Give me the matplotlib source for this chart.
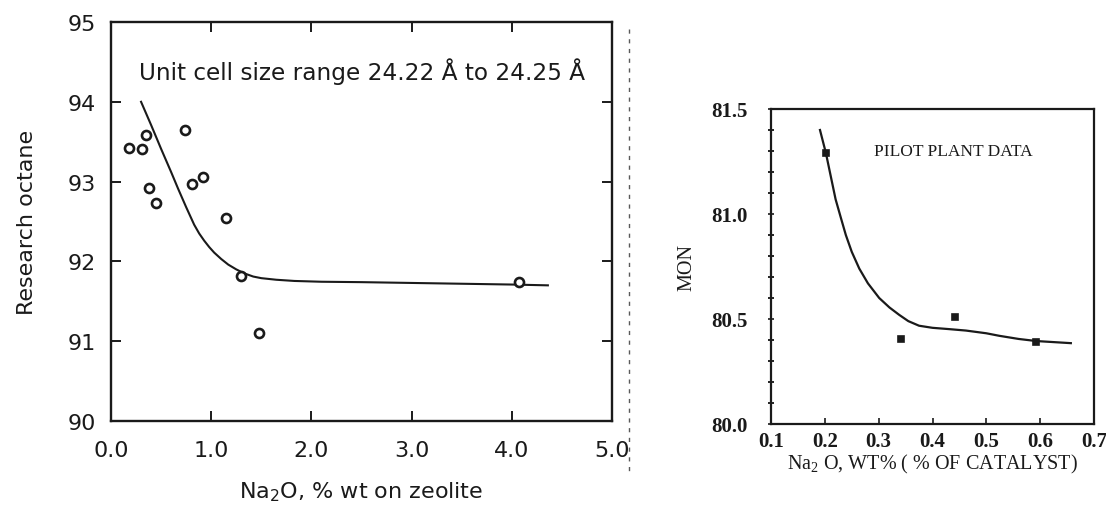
import numpy as np
import matplotlib
matplotlib.use("Agg")
import matplotlib.pyplot as plt
from matplotlib.lines import Line2D
from matplotlib.ticker import MultipleLocator

plt.rcParams["mathtext.default"] = "regular"

# research octane vs Na2O on zeolite (measured points)
na2o_zeolite = [0.18, 0.31, 0.35, 0.38, 0.45, 0.74, 0.81, 0.92, 1.15, 1.30, 1.48, 4.07]
ron = [93.42, 93.41, 93.58, 92.92, 92.73, 93.65, 92.97, 93.06, 92.55, 91.82, 91.10, 91.74]

# hand drawn trend through the octane data
ron_curve_x = [0.30, 0.40, 0.50, 0.60, 0.67, 0.75, 0.83, 0.88, 0.93, 0.98, 1.03, 1.10, 1.17,
               1.25, 1.33, 1.42, 1.50, 1.65, 1.83, 2.10, 2.50, 3.00, 3.50, 4.00, 4.36]
ron_curve_y = [94.00, 93.71, 93.41, 93.12, 92.91, 92.68, 92.46, 92.35, 92.26, 92.18, 92.11,
               92.03, 91.96, 91.90, 91.85, 91.81, 91.79, 91.77, 91.755, 91.745, 91.74, 91.73,
               91.72, 91.71, 91.70]

# pilot plant MON vs Na2O on catalyst
na2o_catalyst = [0.203, 0.342, 0.442, 0.593]
mon = [81.29, 80.405, 80.51, 80.39]

mon_curve_x = [0.191, 0.202, 0.211, 0.220, 0.230, 0.239, 0.250, 0.264, 0.280, 0.301, 0.320,
               0.338, 0.355, 0.375, 0.400, 0.430, 0.462, 0.500, 0.524, 0.560, 0.593, 0.625, 0.657]
mon_curve_y = [81.40, 81.29, 81.18, 81.07, 80.98, 80.90, 80.82, 80.74, 80.67, 80.60, 80.555,
               80.52, 80.49, 80.468, 80.458, 80.452, 80.445, 80.432, 80.42, 80.405, 80.395, 80.39, 80.385]

left_xticks = [0.0, 1.0, 2.0, 3.0, 4.0, 5.0]
left_yticks = [90, 91, 92, 93, 94, 95]
right_xticks = [0.1, 0.2, 0.3, 0.4, 0.5, 0.6, 0.7]
right_yticks = [80.0, 80.5, 81.0, 81.5]

ink = "#1a1a1a"

fig = plt.figure(figsize=(11.06, 5.10), dpi=100)

# ---- left panel ----
ax1 = fig.add_axes([111 / 1106, 1 - 422 / 510, 501 / 1106, 399 / 510])
ax1.plot(ron_curve_x, ron_curve_y, color=ink, lw=1.5)
ax1.plot(na2o_zeolite, ron, ls="none", marker="o", ms=6.5, mfc="white", mec=ink, mew=1.9)
ax1.set_xlim(0, 5)
ax1.set_ylim(90, 95)
ax1.set_xticks(left_xticks)
ax1.set_xticklabels([f"{v:.1f}" for v in left_xticks])
ax1.set_yticks(left_yticks)
ax1.tick_params(direction="in", length=7, width=1.4, top=True, right=True,
                labelsize=16, colors=ink, pad=11)
ax1.tick_params(axis="x", pad=14)
for s in ax1.spines.values():
    s.set_linewidth(1.7)
    s.set_color(ink)
ax1.set_xlabel("Na$_2$O, % wt on zeolite", fontsize=16, color=ink, labelpad=14)
ax1.set_ylabel("Research octane", fontsize=16, color=ink, labelpad=22)
ax1.text(0.056, 0.877, "Unit cell size range 24.22 Å to 24.25 Å", transform=ax1.transAxes,
         fontsize=16.7, color=ink, va="center", ha="left")

# ---- right panel ----
serif = ["Liberation Serif", "DejaVu Serif"]
ax2 = fig.add_axes([771 / 1106, 1 - 425 / 510, 323 / 1106, 315 / 510])
ax2.plot(mon_curve_x, mon_curve_y, color=ink, lw=1.6)
ax2.plot(na2o_catalyst, mon, ls="none", marker="s", ms=5, mfc=ink, mec=ink, mew=1.2)
ax2.set_xlim(0.1, 0.7)
ax2.set_ylim(80.0, 81.5)
ax2.set_xticks(right_xticks)
ax2.set_xticklabels([f"{v:.1f}" for v in right_xticks])
ax2.set_yticks(right_yticks)
ax2.set_yticklabels([f"{v:.1f}" for v in right_yticks])
ax2.yaxis.set_minor_locator(MultipleLocator(0.1))
ax2.tick_params(axis="y", which="both", direction="inout", length=5, width=1.2, pad=14)
ax2.tick_params(axis="x", direction="in", length=4, width=1.2, pad=5)
ax2.tick_params(labelsize=15, colors=ink)
for s in ax2.spines.values():
    s.set_linewidth(1.6)
    s.set_color(ink)
for lab in ax2.get_xticklabels() + ax2.get_yticklabels():
    lab.set_family(serif)
    lab.set_weight("semibold")
ax2.set_xlabel("Na$_2$ O, WT% ( % OF CATALYST)", fontsize=14.5, family=serif,
               color=ink, labelpad=1)
ax2.set_ylabel("MON", fontsize=14.5, family=serif, color=ink, labelpad=11)
ax2.text(0.318, 0.867, "PILOT PLANT DATA", transform=ax2.transAxes, fontsize=12.5,
         family=serif, color=ink, va="center", ha="left")

# faint dashed rule between the panels
fig.add_artist(Line2D([629 / 1106, 629 / 1106], [1 - 30 / 510, 1 - 475 / 510],
                      transform=fig.transFigure, color="0.35", lw=1.0, ls=(0, (3, 4))))

fig.savefig("out.png", dpi=100, facecolor="white")
